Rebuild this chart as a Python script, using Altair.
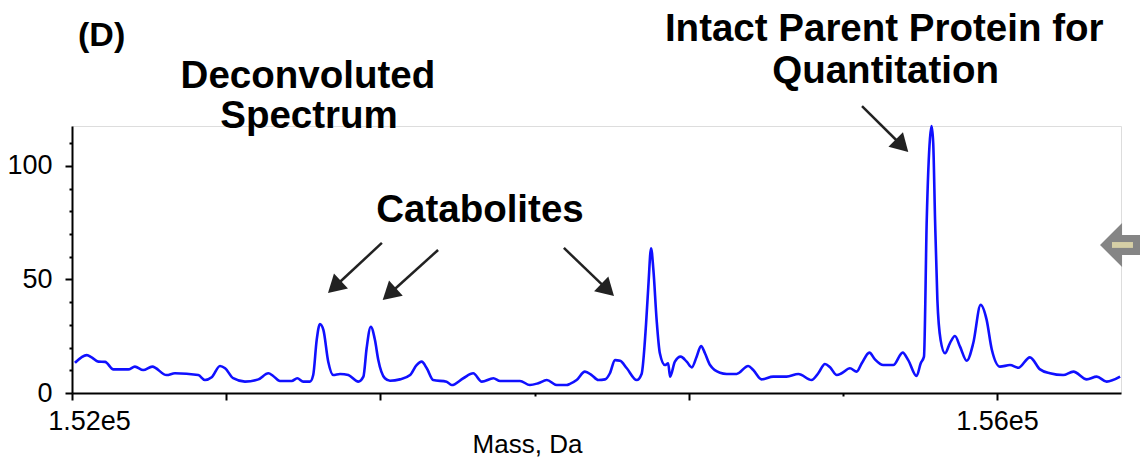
import altair as alt
import pandas as pd

# ---- spectrum ----
mass = [
    152013, 152064, 152085, 152114, 152143, 152179, 152243, 152272, 152308, 152347,
    152409, 152445, 152546, 152575, 152604, 152640, 152662, 152697, 152748, 152806,
    152849, 152870, 152899, 152950, 152974, 153000, 153029, 153043, 153058, 153072,
    153087, 153108, 153130, 153159, 153195, 153238, 153260, 153274, 153292, 153310,
    153324, 153353, 153375, 153418, 153462, 153490, 153512, 153534, 153562, 153620,
    153642, 153692, 153735, 153772, 153822, 153851, 153937, 153980, 154016, 154053,
    154096, 154139, 154153, 154182, 154218, 154247, 154276, 154305, 154326, 154348,
    154370, 154399, 154442, 154463, 154482, 154492, 154504, 154514, 154528, 154542,
    154564, 154578, 154586, 154607, 154632, 154658, 154680, 154701, 154720, 154737,
    154759, 154802, 154831, 154874, 154924, 154946, 154982, 155032, 155090, 155141,
    155198, 155227, 155256, 155278, 155307, 155328, 155364, 155393, 155415, 155448,
    155472, 155508, 155551, 155592, 155616, 155652, 155670, 155684, 155696, 155710,
    155717, 155724, 155732, 155742, 155756, 155775, 155796, 155818, 155840, 155869,
    155897, 155929, 155955, 155977, 156013, 156056, 156092, 156142, 156186, 156229,
    156286, 156330, 156388, 156431, 156474, 156532,
]
intensity = [
    13.3, 16.7, 15.7, 13.8, 13.7, 10.4, 10.4, 11.6, 10.1, 11.6,
    7.9, 8.7, 7.9, 5.7, 6.9, 11.9, 10.9, 6.5, 5.0, 6.0,
    8.7, 7.5, 5.3, 5.3, 6.5, 5.0, 5.0, 7.9, 23.3, 30.4,
    27.8, 13.8, 7.9, 8.4, 7.9, 5.0, 7.2, 19.7, 29.2, 23.3,
    14.8, 6.5, 5.4, 6.0, 7.9, 12.3, 13.8, 10.9, 5.7, 5.0,
    3.5, 6.5, 8.7, 5.0, 6.5, 5.3, 5.3, 3.5, 4.3, 5.7,
    3.5, 3.5, 4.0, 5.7, 9.4, 7.9, 5.7, 6.0, 8.7, 14.5,
    14.2, 10.9, 5.7, 8.4, 30.0, 46.8, 63.7, 54.2, 32.2, 17.5,
    12.3, 13.1, 7.2, 13.8, 16.0, 13.8, 11.3, 16.0, 20.7, 17.5,
    12.3, 8.9, 8.4, 8.4, 11.9, 10.1, 6.0, 7.2, 7.2, 8.4,
    5.7, 8.7, 12.8, 11.3, 7.9, 8.7, 10.9, 9.4, 13.1, 17.8,
    14.8, 12.3, 12.3, 17.8, 14.5, 7.5, 13.1, 16.0, 76.2, 112.2,
    117.6, 110.0, 76.2, 41.0, 23.3, 17.5, 21.9, 25.1, 20.4, 14.2,
    21.9, 38.8, 32.2, 19.3, 11.6, 12.3, 11.1, 15.7, 10.4, 8.7,
    7.9, 9.4, 6.0, 7.2, 5.0, 7.2,
]

# ---- axes ----
x_domain = [152000, 156536]
y_domain = [0, 117.6]
x_tick_values = [152000, 152667, 153333, 154000, 154667, 155333, 156000]
y_tick_values = [0, 10, 20, 30, 40, 50, 60, 70, 80, 90, 100, 110]

# ---- annotations (data coordinates) ----
label_text = ["Deconvoluted", "Spectrum", "Catabolites", "Intact Parent Protein for", "Quantitation"]
label_mass = [153020, 153025, 153764, 155512, 155518]
label_int = [134.4, 116.7, 75.3, 155.1, 136.6]

panel_text = ["(D)"]
panel_mass = [152026]
panel_int = [152.9]

arrow_start_mass = [153340, 153583, 154127, 155416]
arrow_start_int = [66.1, 63.0, 63.9, 126.4]
arrow_head_mass = [153135, 153372, 154316, 155589]
arrow_head_int = [46.7, 43.6, 45.4, 108.9]
arrow_angle = [227, 228, 134, 135]

widget_mass = [156536]
widget_int = [65.2]

FONT = "Liberation Sans"

spec = pd.DataFrame({"mass": mass, "intensity": intensity})
labels = pd.DataFrame({"mass": label_mass, "intensity": label_int, "label": label_text})
panel = pd.DataFrame({"mass": panel_mass, "intensity": panel_int, "label": panel_text})
arrows = pd.DataFrame({
    "mass": arrow_start_mass, "intensity": arrow_start_int,
    "mass2": arrow_head_mass, "intensity2": arrow_head_int,
})
heads = pd.DataFrame({"mass": arrow_head_mass, "intensity": arrow_head_int, "angle": arrow_angle})
widget = pd.DataFrame({"mass": widget_mass, "intensity": widget_int})

xs = alt.Scale(domain=x_domain, nice=False, zero=False)
ys = alt.Scale(domain=y_domain, nice=False, zero=False)

x_axis = alt.Axis(
    values=x_tick_values,
    labelExpr="datum.value == 152000 ? '1.52e5' : (datum.value == 156000 ? '1.56e5' : '')",
    title="Mass, Da",
    titleFont=FONT, titleFontSize=26, titleFontWeight="normal", titleColor="black",
    titleX=455, titleY=38, titleBaseline="top", titleAlign="center",
    labelFont=FONT, labelFontSize=27, labelColor="black", labelPadding=8,
    labelFlush=False, labelOverlap=False,
    labelOffset={"condition": {"test": "datum.value == 152000", "value": 17}, "value": 0},
    tickColor="black", tickWidth=2,
    tickSize={"condition": {"test": "datum.value == 154000 || datum.value == 155333", "value": 3}, "value": 7},
    domainColor="black", domainWidth=2, grid=False,
)
y_axis = alt.Axis(
    values=y_tick_values,
    labelExpr="datum.value % 50 == 0 ? datum.label : ''",
    title=None,
    labelFont=FONT, labelFontSize=27, labelColor="black", labelPadding=13,
    labelOverlap=False, labelFlush=False,
    tickColor="black", tickWidth=2,
    tickSize={"condition": {"test": "datum.value % 50 == 0", "value": 7}, "value": 3},
    domainColor="black", domainWidth=2, grid=False,
)

X = alt.X("mass:Q", scale=xs, axis=x_axis)
Y = alt.Y("intensity:Q", scale=ys, axis=y_axis)

line = alt.Chart(spec).mark_line(
    color="#1010ff", strokeWidth=2.6, interpolate="monotone"
).encode(x=X, y=Y)

text_big = alt.Chart(labels).mark_text(
    font=FONT, fontSize=38.5, fontWeight="bold", color="black", align="center", baseline="alphabetic"
).encode(x=X, y=Y, text="label:N")

text_panel = alt.Chart(panel).mark_text(
    font=FONT, fontSize=34, fontWeight="bold", color="black", align="left", baseline="alphabetic"
).encode(x=X, y=Y, text="label:N")

shafts = alt.Chart(arrows).mark_rule(color="#222222", strokeWidth=2.5).encode(
    x=X, y=Y, x2="mass2:Q", y2="intensity2:Q"
)
arrow_heads = alt.Chart(heads).mark_point(
    shape="triangle-up", filled=True, size=420, color="#222222", opacity=1
).encode(x=X, y=Y, angle=alt.Angle("angle:Q", scale=None))

widget_body = alt.Chart(widget).mark_point(
    shape="M-1,0 L0.05,-1.05 L0.05,-0.48 L1,-0.48 L1,0.48 L0.05,0.48 L0.05,1.05 Z",
    filled=True, size=1764, color="#858585", opacity=1
).encode(x=X, y=Y)
widget_bar = alt.Chart(widget).mark_point(
    shape="M-0.43,-0.14 L0.57,-0.14 L0.57,0.14 L-0.43,0.14 Z",
    filled=True, size=1764, color="#d6cfa6", opacity=1
).encode(x=X, y=Y)

chart = alt.layer(
    line, shafts, arrow_heads, text_big, text_panel, widget_body, widget_bar
).properties(
    width=1049, height=267,
    autosize=alt.AutoSizeParams(type="none"),
    padding={"left": 72, "top": 126, "right": 19, "bottom": 77},
).configure_view(stroke=None).configure(background="white")

chart.save("out.html", embed_options={"renderer": "svg", "actions": False})
